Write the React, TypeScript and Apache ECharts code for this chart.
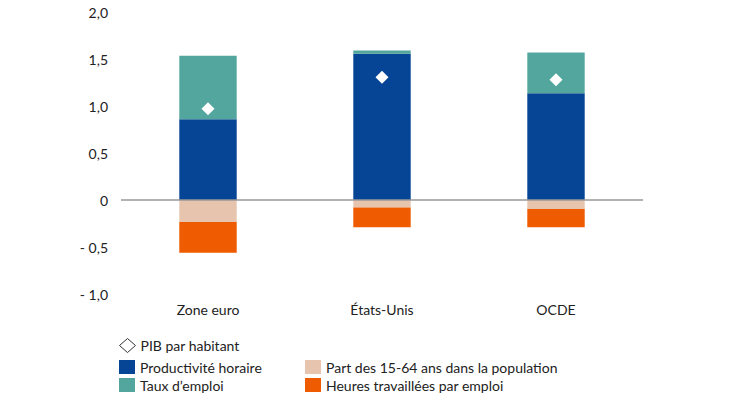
import React, { useEffect, useRef } from "react";
import * as echarts from "echarts";

const categories = ["Zone euro", "États-Unis", "OCDE"];
const productivite = [0.86, 1.555, 1.135];
const tauxEmploi = [0.675, 0.035, 0.435];
const part1564 = [-0.235, -0.08, -0.095];
const heures = [-0.325, -0.21, -0.195];
const pib = [0.97, 1.305, 1.28];

const FONT = "Lato";
const TXT = "#222";

export default function App() {
  const ref = useRef<HTMLDivElement>(null);
  useEffect(() => {
    if (!ref.current) return;
    const chart = echarts.init(ref.current, undefined, { renderer: "svg" });
    const fmt = (v: number) => {
      if (v === 0) return "0";
      const s = Math.abs(v).toFixed(1).replace(".", ",");
      return v < 0 ? "- " + s : s;
    };
    const legendText = { fontFamily: FONT, fontSize: 14, color: TXT };
    chart.setOption({
      animation: false,
      textStyle: { fontFamily: FONT },
      grid: { left: 121, right: 87, top: 12, bottom: 116 },
      legend: [
        {
          left: 114,
          top: 333,
          itemWidth: 16,
          itemHeight: 14,
          textStyle: legendText,
          data: [
            {
              name: "PIB par habitant",
              icon: "diamond",
              itemStyle: { color: "#fff", borderColor: "#333", borderWidth: 1 },
            },
          ],
        },
        {
          left: 114,
          top: 355,
          orient: "vertical",
          itemWidth: 16,
          itemHeight: 14,
          itemGap: 4,
          textStyle: legendText,
          data: [
            { name: "Productivité horaire", icon: "rect" },
            { name: "Taux d’emploi", icon: "rect" },
          ],
        },
        {
          left: 300,
          top: 355,
          orient: "vertical",
          itemWidth: 16,
          itemHeight: 14,
          itemGap: 4,
          textStyle: legendText,
          data: [
            { name: "Part des 15-64 ans dans la population", icon: "rect" },
            { name: "Heures travaillées par emploi", icon: "rect" },
          ],
        },
      ],
      xAxis: {
        type: "category",
        data: categories,
        axisLine: { show: false, onZero: false },
        axisTick: { show: false },
        axisLabel: { fontFamily: FONT, fontSize: 14, color: TXT, margin: 8 },
      },
      yAxis: {
        type: "value",
        min: -1,
        max: 2,
        interval: 0.5,
        splitLine: { show: false },
        axisLine: { show: false },
        axisTick: { show: false },
        axisLabel: {
          fontFamily: FONT,
          fontSize: 14,
          color: TXT,
          margin: 13,
          formatter: fmt,
        },
      },
      series: [
        {
          name: "Productivité horaire",
          type: "bar",
          stack: "a",
          barWidth: "33%",
          data: productivite,
          itemStyle: { color: "#064595" },
          markLine: {
            silent: true,
            symbol: "none",
            label: { show: false },
            lineStyle: { color: "#999", width: 1.5, type: "solid" },
            data: [{ yAxis: 0 }],
          },
          z: 1,
        },
        {
          name: "Taux d’emploi",
          type: "bar",
          stack: "a",
          data: tauxEmploi,
          itemStyle: { color: "#53a69d" },
        },
        {
          name: "Part des 15-64 ans dans la population",
          type: "bar",
          stack: "a",
          data: part1564,
          itemStyle: { color: "#e7c4ae" },
        },
        {
          name: "Heures travaillées par emploi",
          type: "bar",
          stack: "a",
          data: heures,
          itemStyle: { color: "#ef5b00" },
        },
        {
          name: "PIB par habitant",
          type: "scatter",
          symbol: "diamond",
          symbolSize: 13,
          data: pib,
          itemStyle: { color: "#fff", opacity: 1 },
          z: 5,
        },
      ],
    });
    return () => chart.dispose();
  }, []);
  return (
    <div
      ref={ref}
      style={{ position: "absolute", left: 0, top: 0, width: 730, height: 410 }}
    />
  );
}
